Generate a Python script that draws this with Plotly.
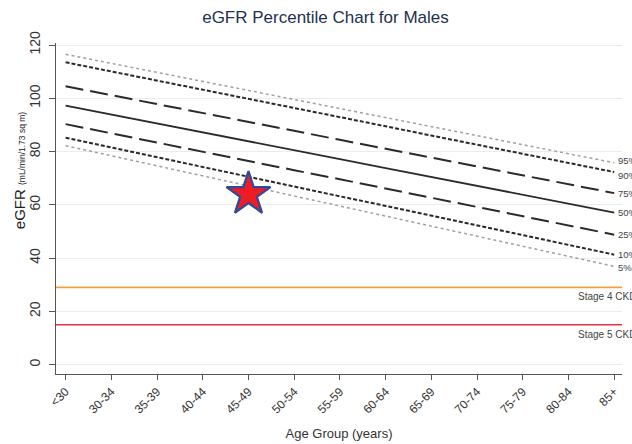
import plotly.graph_objects as go

age_groups = ["<30", "30-34", "35-39", "40-44", "45-49", "50-54", "55-59",
              "60-64", "65-69", "70-74", "75-79", "80-84", "85+"]

p95 = [116.5, 113.1, 109.7, 106.3, 102.9, 99.5, 96.2, 92.8, 89.4, 86.0, 82.6, 79.2, 75.8]
p90 = [113.5, 110.1, 106.6, 103.2, 99.8, 96.3, 92.9, 89.5, 86.0, 82.6, 79.2, 75.7, 72.3]
p75 = [104.5, 101.2, 97.8, 94.5, 91.1, 87.8, 84.4, 81.1, 77.8, 74.4, 71.1, 67.7, 64.4]
p50 = [97.2, 93.9, 90.5, 87.2, 83.8, 80.5, 77.2, 73.8, 70.5, 67.1, 63.8, 60.5, 57.1]
p25 = [90.3, 86.8, 83.4, 79.9, 76.5, 73.0, 69.6, 66.1, 62.6, 59.2, 55.7, 52.3, 48.8]
p10 = [85.2, 81.5, 77.9, 74.2, 70.6, 66.9, 63.2, 59.6, 55.9, 52.3, 48.6, 44.9, 41.3]
p5 = [82.2, 78.4, 74.7, 70.9, 67.1, 63.3, 59.6, 55.8, 52.0, 48.2, 44.5, 40.7, 36.9]

percentile_labels = ["95%", "90%", "75%", "50%", "25%", "10%", "5%"]
stage_labels = ["Stage 4 CKD", "Stage 5 CKD"]
stage_values = [29, 15]

patient_age = "45-49"
patient_egfr = 64

series = [p95, p90, p75, p50, p25, p10, p5]
styles = [
    dict(color="#a0a0a0", width=1.5, dash="dot"),
    dict(color="#2a2a2a", width=2.0, dash="4px,2px"),
    dict(color="#2a2a2a", width=2.0, dash="18px,7px"),
    dict(color="#2a2a2a", width=1.8, dash="solid"),
    dict(color="#2a2a2a", width=2.0, dash="18px,7px"),
    dict(color="#2a2a2a", width=2.0, dash="4px,2px"),
    dict(color="#a0a0a0", width=1.5, dash="dot"),
]
label_nudges = [2, -3, 0, 0, 0, 0, -1]

fig = go.Figure()

stage_colors = ["#F0A23A", "#E8313C"]
for val, col in zip(stage_values, stage_colors):
    fig.add_trace(go.Scatter(x=[-0.21, 12.17], y=[val, val], xaxis="x2",
                             mode="lines", line=dict(color=col, width=1.6),
                             showlegend=False, hoverinfo="skip"))

for s, st in zip(series, styles):
    fig.add_trace(go.Scatter(x=age_groups, y=s, mode="lines", line=st,
                             showlegend=False))

fig.add_trace(go.Scatter(x=[patient_age], y=[patient_egfr], mode="markers",
                         marker=dict(symbol="star", size=33, color="#EE1C25",
                                     line=dict(color="#2E4B99", width=2.2)),
                         showlegend=False))

annotations = []
# percentile labels at the right end of each line
for s, lab, dy in zip(series, percentile_labels, label_nudges):
    annotations.append(dict(x=age_groups[-1], y=s[-1], text=lab, showarrow=False,
                            xanchor="left", yanchor="middle", xshift=2, yshift=dy,
                            font=dict(size=9.5, color="#444444")))
for val, lab in zip(stage_values, stage_labels):
    annotations.append(dict(x=0.918, xref="paper", y=val, text=lab, showarrow=False,
                            xanchor="left", yanchor="top", yshift=-2,
                            font=dict(size=10, color="#444444")))
annotations.append(dict(x=0, xref="paper", y=73, yref="y",
                        text="eGFR <span style='font-size:8.5px'>(mL/min/1.73 sq m)</span>",
                        textangle=-90, showarrow=False, xanchor="center",
                        xshift=-37, font=dict(size=15, color="#222222")))

fig.update_layout(
    width=632, height=444,
    margin=dict(l=56, r=10, t=43, b=70, autoexpand=False),
    paper_bgcolor="white", plot_bgcolor="white",
    font=dict(family="Liberation Sans, Arial, sans-serif", color="#333333"),
    title=dict(text="eGFR Percentile Chart for Males", x=0.515, xanchor="center",
               y=0.962, yanchor="middle",
               font=dict(size=17, color="#22314F")),
    annotations=annotations,
    xaxis=dict(type="category", categoryorder="array", categoryarray=age_groups,
               range=[-0.21, 12.17], tickangle=-45, ticks="outside", ticklen=5,
               tickcolor="#555555", showline=True, linecolor="#555555",
               linewidth=1, showgrid=False, zeroline=False, automargin=False,
               tickfont=dict(size=12, color="#333333"),
               title=dict(text="Age Group (years)", font=dict(size=13, color="#333333"),
                          standoff=13)),
    xaxis2=dict(range=[-0.21, 12.17], overlaying="x", visible=False),
    yaxis=dict(range=[-3.5, 120.75], tickvals=[0, 20, 40, 60, 80, 100, 120],
               tickangle=-90, ticks="outside", ticklen=6, tickcolor="#555555",
               ticklabelstandoff=3, automargin=False,
               showline=True, linecolor="#555555", linewidth=1,
               showgrid=True, gridcolor="#E6EDF2", gridwidth=1, zeroline=False,
               tickfont=dict(size=14, color="#333333")),
)

fig.write_html("out.html", config={"displayModeBar": False},
               post_script="document.body.style.margin='0';")
